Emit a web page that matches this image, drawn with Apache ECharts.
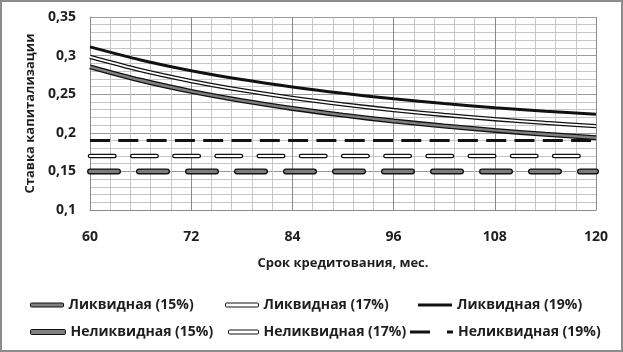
<!DOCTYPE html>
<html>
<head>
<meta charset="utf-8">
<script src="https://cdn.jsdelivr.net/npm/echarts@6/dist/echarts.min.js"></script>
<style>
  html, body { margin: 0; padding: 0; background: #fff; }
  #wrap { position: relative; width: 623px; height: 352px; overflow: hidden; }
  #chart { width: 623px; height: 352px; }
  #frame { position: absolute; left: 0; top: 0; width: 623px; height: 352px; box-sizing: border-box;
           border: 2px solid #8c8c8c; pointer-events: none; }
</style>
</head>
<body>
<div id="wrap"><div id="chart"></div><div id="frame"></div></div>
<script>
const months = [60, 66, 72, 78, 84, 90, 96, 102, 108, 114, 120]
const liquid15 = [0.2855, 0.2681, 0.2537, 0.2417, 0.2316, 0.2229, 0.2153, 0.2088, 0.2031, 0.1981, 0.1936]
const liquid17 = [0.2982, 0.2811, 0.2670, 0.2552, 0.2452, 0.2368, 0.2295, 0.2231, 0.2176, 0.2128, 0.2086]
const liquid19 = [0.3113, 0.2944, 0.2805, 0.2690, 0.2593, 0.2511, 0.2440, 0.2379, 0.2326, 0.2280, 0.2240]
const illiquid15 = [0.15, 0.15, 0.15, 0.15, 0.15, 0.15, 0.15, 0.15, 0.15, 0.15, 0.15]
const illiquid17 = [0.17, 0.17, 0.17, 0.17, 0.17, 0.17, 0.17, 0.17, 0.17, 0.17, 0.17]
const illiquid19 = [0.19, 0.19, 0.19, 0.19, 0.19, 0.19, 0.19, 0.19, 0.19, 0.19, 0.19]
const yTicks = [0.1, 0.15, 0.2, 0.25, 0.3, 0.35]
const yTickLabels = ['0,1', '0,15', '0,2', '0,25', '0,3', '0,35']

const font = { fontFamily: 'Open Sans', fontWeight: 'bold', fontSize: 13, color: '#1e1e1e' }
const font14 = Object.assign({}, font, { fontSize: 14 })

function pts(arr) {
  return months.map((m, i) => [m, arr[i]])
}

function line(name, arr, width, color, extra) {
  return Object.assign({
    name: name,
    type: 'line',
    data: pts(arr),
    symbol: 'none',
    silent: true,
    lineStyle: { width: width, color: color }
  }, extra || {})
}

function legendAt(name, left, top, w, h, icon, style) {
  return {
    data: [name],
    left: left,
    top: top,
    padding: 0,
    icon: icon,
    itemWidth: w,
    itemHeight: h,
    itemStyle: style,
    selectedMode: false,
    textStyle: Object.assign({ lineHeight: 16 }, font14)
  }
}

const chart = echarts.init(document.getElementById('chart'))
const option = {
  animation: false,
  backgroundColor: '#fff',
  grid: { left: 90, right: 27, top: 17, bottom: 142 },
  xAxis: {
    type: 'value',
    min: 60,
    max: 120,
    interval: 12,
    name: 'Срок кредитования, мес.',
    nameLocation: 'middle',
    nameGap: 47,
    nameTextStyle: font,
    axisLine: { lineStyle: { color: '#8a8a8a' } },
    axisTick: { show: false },
    axisLabel: Object.assign({ margin: 20 }, font14),
    splitLine: { lineStyle: { color: '#8a8a8a' } },
    minorTick: { show: false, splitNumber: 5 },
    minorSplitLine: { show: true, lineStyle: { color: '#c6c6c6' } }
  },
  yAxis: {
    type: 'value',
    min: 0.1,
    max: 0.35,
    interval: 0.05,
    name: 'Ставка капитализации',
    nameLocation: 'middle',
    nameGap: 53,
    nameTextStyle: font,
    axisLine: { show: true, lineStyle: { color: '#8a8a8a' } },
    axisTick: { show: false },
    axisLabel: Object.assign({
      margin: 14,
      formatter: function (v) {
        const i = yTicks.findIndex(t => Math.abs(t - v) < 1e-6)
        return i >= 0 ? yTickLabels[i] : ''
      }
    }, font14),
    splitLine: { lineStyle: { color: '#9a9a9a' } },
    minorTick: { show: false, splitNumber: 5 },
    minorSplitLine: { show: true, lineStyle: { color: '#c6c6c6' } }
  },
  legend: [
    legendAt('Ликвидная (15%)', 30, 297, 33, 4, 'roundRect', { color: '#808080', borderColor: '#111', borderWidth: 1 }),
    legendAt('Ликвидная (17%)', 225, 297, 33, 4, 'roundRect', { color: '#fff', borderColor: '#111', borderWidth: 1 }),
    legendAt('Ликвидная (19%)', 418, 297, 34, 3, 'rect', { color: '#111', borderWidth: 0 }),
    legendAt('Неликвидная (15%)', 30, 324, 35, 5, 'roundRect', { color: '#808080', borderColor: '#111', borderWidth: 1 }),
    legendAt('Неликвидная (17%)', 228, 324, 30, 4, 'roundRect', { color: '#fff', borderColor: '#111', borderWidth: 1 }),
    legendAt('Неликвидная (19%)', 410, 324, 43, 3, 'path://M0,0H20V3H0ZM37,0H43V3H37Z', { color: '#111', borderWidth: 0 })
  ],
  series: [
    // black outlines under the two-tone lines
    line('l15 outline', liquid15, 5, '#111', { smooth: 0.3 }),
    line('l17 outline', liquid17, 4.4, '#111', { smooth: 0.3 }),
    line('i15 outline', illiquid15, 6, '#111', { lineStyle: { width: 6, color: '#111', type: [28, 21], cap: 'round' } }),
    line('i17 outline', illiquid17, 4.6, '#111', { lineStyle: { width: 4.6, color: '#111', type: [24.4, 17.8], cap: 'round' } }),

    line('Ликвидная (15%)', liquid15, 2.4, '#808080', { smooth: 0.3 }),
    line('Ликвидная (17%)', liquid17, 1.8, '#fff', { smooth: 0.3 }),
    line('Ликвидная (19%)', liquid19, 3, '#111', { smooth: 0.3 }),
    line('Неликвидная (15%)', illiquid15, 3.4, '#7c7c7c', { lineStyle: { width: 3.4, color: '#7c7c7c', type: [28, 21], cap: 'round' } }),
    line('Неликвидная (17%)', illiquid17, 2, '#fff', { lineStyle: { width: 2, color: '#fff', type: [24.4, 17.8], cap: 'round' } }),
    line('Неликвидная (19%)', illiquid19, 3, '#111', { lineStyle: { width: 3, color: '#111', type: [20, 8.3] } })
  ]
}
chart.setOption(option)
</script>
</body>
</html>
